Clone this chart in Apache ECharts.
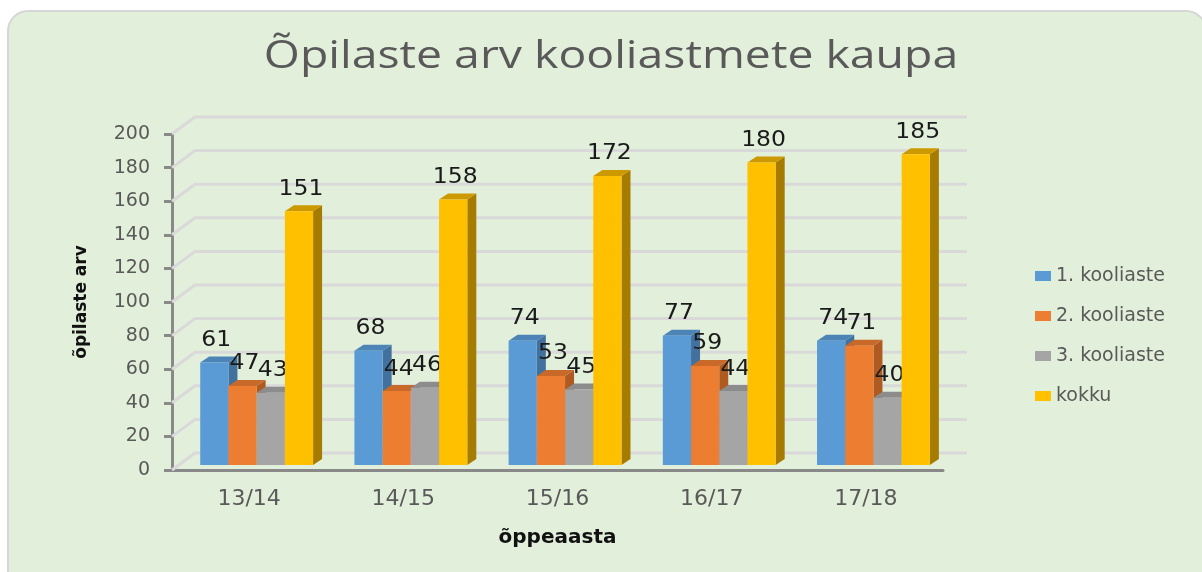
<!DOCTYPE html>
<html>
<head>
<meta charset="utf-8">
<script src="https://cdn.jsdelivr.net/npm/echarts@6/dist/echarts.min.js"></script>
<style>
  html, body { margin: 0; padding: 0; background: #fff; }
  #chart { width: 1202px; height: 572px; }
</style>
</head>
<body>
<div id="chart"></div>
<script>
// data
const categories = ['13/14', '14/15', '15/16', '16/17', '17/18']
const stage1 = [61, 68, 74, 77, 74]
const stage2 = [47, 44, 53, 59, 71]
const stage3 = [43, 46, 45, 44, 40]
const total = [151, 158, 172, 180, 185]
const yTicks = [0, 20, 40, 60, 80, 100, 120, 140, 160, 180, 200]

const seriesDefs = [
  { name: '1. kooliaste', data: stage1, front: '#5B9BD5', side: '#41719C', top: '#4D84B8' },
  { name: '2. kooliaste', data: stage2, front: '#ED7D31', side: '#AE5A21', top: '#C8692A' },
  { name: '3. kooliaste', data: stage3, front: '#A5A5A5', side: '#787878', top: '#8C8C8C' },
  { name: 'kokku', data: total, front: '#FFC000', side: '#A67C00', top: '#CC9A00' },
]

const WALL_DX = 23, WALL_DY = -17
const BAR_DX = 9, BAR_DY = -6

function barRenderer(idx, def) {
  return function (params, api) {
    const ci = api.value(0)
    const v = api.value(1)
    const top = api.coord([ci, v])
    const base = api.coord([ci, 0])
    const band = api.size([1, 0])[0]
    const bw = band * 0.183
    const x0 = top[0] - band * 0.317 + idx * bw
    const yt = top[1] - 5
    const yb = base[1] - 5
    return {
      type: 'group',
      children: [
        {
          type: 'polygon',
          shape: { points: [[x0 + bw, yt], [x0 + bw + BAR_DX, yt + BAR_DY], [x0 + bw + BAR_DX, yb + BAR_DY], [x0 + bw, yb]] },
          style: { fill: def.side },
        },
        {
          type: 'polygon',
          shape: { points: [[x0, yt], [x0 + BAR_DX, yt + BAR_DY], [x0 + bw + BAR_DX, yt + BAR_DY], [x0 + bw, yt]] },
          style: { fill: def.top },
        },
        {
          type: 'rect',
          shape: { x: x0, y: yt, width: bw, height: yb - yt },
          style: { fill: def.front },
        },
        {
          type: 'text',
          z2: 10,
          x: x0 + bw / 2 + 2, y: yt - 22,
          scaleX: 1.12,
          style: {
            x: 0, y: 0,
            text: String(v),
            align: 'center', verticalAlign: 'middle',
            fill: '#1a1a1a',
            font: '21px "DejaVu Sans"',
          },
        },
      ],
    }
  }
}

const chart = echarts.init(document.getElementById('chart'), null, { renderer: 'canvas' })

chart.setOption({
  backgroundColor: '#fff',
  animation: false,
  graphic: [
    {
      type: 'rect', z: -10, silent: true,
      shape: { x: 8, y: 11, width: 1198, height: 600, r: 20 },
      style: { fill: '#E2EFDA', stroke: '#D6D6D6', lineWidth: 2 },
    },
    {
      // title, stretched sideways like the reference
      type: 'text', silent: true,
      x: 611, y: 57, scaleX: 1.22,
      style: {
        text: 'Õpilaste arv kooliastmete kaupa',
        align: 'center', verticalAlign: 'middle',
        font: '38px "Open Sans"',
        fill: '#595959',
      },
    },
  ],
  legend: {
    orient: 'vertical',
    left: 1030, top: 261,
    itemWidth: 16, itemHeight: 10, itemGap: 20,
    icon: 'rect',
    textStyle: { fontFamily: 'DejaVu Sans', fontSize: 19, color: '#595959', lineHeight: 20 },
    data: seriesDefs.map(d => d.name),
  },
  grid: { left: 172, right: 259, top: 134, bottom: 102 },
  xAxis: {
    type: 'category',
    data: categories,
    name: 'õppeaasta',
    nameLocation: 'middle',
    nameGap: 58,
    nameTextStyle: { fontFamily: 'DejaVu Sans', fontWeight: 'bold', fontSize: 20, color: '#111' },
    axisLine: { lineStyle: { color: '#898989', width: 3 } },
    axisTick: { show: false },
    axisLabel: { margin: 18, fontFamily: 'DejaVu Sans', fontSize: 22, color: '#595959' },
  },
  yAxis: {
    type: 'value',
    min: 0, max: 200, interval: 20,
    name: 'õpilaste arv',
    nameLocation: 'middle',
    nameGap: 82,
    nameTextStyle: { fontFamily: 'DejaVu Sans', fontWeight: 'bold', fontSize: 17, color: '#111' },
    axisLine: { show: true, lineStyle: { color: '#898989', width: 3 } },
    axisTick: { show: true, length: 8, lineStyle: { color: '#898989', width: 3 } },
    axisLabel: { margin: 22, fontFamily: 'DejaVu Sans', fontSize: 19, color: '#595959' },
    splitLine: { show: false },
  },
  series: [
    {
      type: 'custom',
      name: 'wall',
      silent: true,
      z: 1,
      data: yTicks.map(t => [0, t]),
      renderItem: function (params, api) {
        const cs = params.coordSys
        const p = api.coord([0, api.value(1)])
        const y = p[1]
        return {
          type: 'polyline',
          shape: { points: [[cs.x, y], [cs.x + WALL_DX, y + WALL_DY], [cs.x + cs.width + WALL_DX + 1, y + WALL_DY]] },
          style: { stroke: '#D9D9D9', lineWidth: 3, fill: null },
        }
      },
    },
    ...seriesDefs.map((def, i) => ({
      type: 'custom',
      name: def.name,
      z: 2 + i,
      itemStyle: { color: def.front },
      data: def.data.map((v, ci) => [ci, v]),
      renderItem: barRenderer(i, def),
    })),
  ],
})
</script>
</body>
</html>
